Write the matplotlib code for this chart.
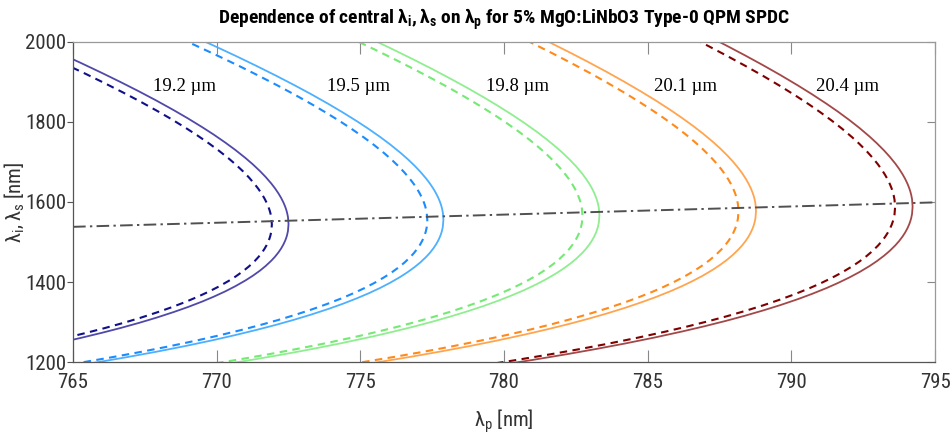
import matplotlib
matplotlib.use("Agg")
import matplotlib.pyplot as plt

plt.rcParams['font.family'] = ['Liberation Sans Narrow', 'Roboto Condensed', 'DejaVu Sans']
plt.rcParams['font.stretch'] = 'condensed'

# Central idler / signal wavelengths versus pump wavelength, for five
# poling periods; each period has a solid and a dashed tuning curve.
# idler = upper branch, signal = lower branch.  Both branches share the
# pump list (the idler uses its first len(idler) entries).

periods = ["19.2 µm", "19.5 µm", "19.8 µm", "20.1 µm", "20.4 µm"]

pump_19_2 = [772.50, 772.48, 772.45, 772.42, 772.38, 772.32, 772.24, 772.15, 772.03, 771.90,
             771.70, 771.50, 771.25, 771.00, 770.65, 770.30, 769.90, 769.50, 769.00, 768.50,
             767.90, 767.30, 766.65, 766.00, 765.25, 764.50, 763.50, 762.50, 761.50, 760.50,
             759.25, 758.00]
idler_19_2 = [1545.0, 1562.7, 1573.1, 1580.7, 1589.0, 1599.1, 1610.4, 1621.3, 1634.0, 1646.1,
              1662.7, 1677.5, 1694.4, 1709.8, 1729.8, 1748.2, 1768.0, 1786.5, 1808.5, 1829.3,
              1853.1, 1875.8, 1899.4, 1922.2, 1947.7, 1972.3, 2004.2]
signal_19_2 = [1545.0, 1527.6, 1517.6, 1510.5, 1503.0, 1493.8, 1483.7, 1474.3, 1463.5, 1453.5,
               1440.1, 1428.4, 1415.6, 1404.2, 1389.9, 1377.0, 1363.8, 1351.7, 1337.9, 1325.3,
               1311.3, 1298.4, 1285.5, 1273.5, 1260.5, 1248.4, 1233.3, 1219.4, 1206.3, 1194.0,
               1179.6, 1166.1]

pump_19_2_b = [771.92, 771.90, 771.87, 771.84, 771.80, 771.74, 771.66, 771.57, 771.45, 771.32,
               771.12, 770.92, 770.67, 770.42, 770.07, 769.72, 769.32, 768.92, 768.42, 767.92,
               767.32, 766.72, 766.07, 765.42, 764.67, 763.92, 762.92, 761.92, 760.92, 759.92,
               758.67, 757.42]
idler_19_2_b = [1543.8, 1561.5, 1571.9, 1579.5, 1587.7, 1597.9, 1609.1, 1620.0, 1632.7, 1644.8,
                1661.4, 1676.2, 1693.0, 1708.4, 1728.3, 1746.7, 1766.4, 1784.9, 1806.9, 1827.6,
                1851.4, 1874.0, 1897.6, 1920.4, 1945.8, 1970.4, 2002.2]
signal_19_2_b = [1543.8, 1526.5, 1516.5, 1509.4, 1501.9, 1492.7, 1482.7, 1473.2, 1462.5, 1452.4,
                 1439.1, 1427.5, 1414.6, 1403.2, 1388.9, 1376.1, 1362.9, 1350.8, 1337.0, 1324.4,
                 1310.4, 1297.6, 1284.7, 1272.7, 1259.7, 1247.6, 1232.6, 1218.6, 1205.6, 1193.3,
                 1178.9, 1165.4]

pump_19_5 = [777.89, 777.87, 777.84, 777.81, 777.77, 777.71, 777.63, 777.54, 777.42, 777.29,
             777.09, 776.89, 776.64, 776.39, 776.04, 775.69, 775.29, 774.89, 774.39, 773.89,
             773.29, 772.69, 772.04, 771.39, 770.64, 769.89, 768.89, 767.89, 766.89, 765.89,
             764.64, 763.39]
idler_19_5 = [1555.8, 1573.7, 1584.3, 1592.0, 1600.4, 1610.7, 1622.1, 1633.2, 1646.1, 1658.4,
              1675.2, 1690.3, 1707.4, 1723.1, 1743.4, 1762.2, 1782.2, 1801.1, 1823.4, 1844.6,
              1868.9, 1892.0, 1916.1, 1939.3, 1965.3, 1990.4, 2022.9]
signal_19_5 = [1555.8, 1538.2, 1528.0, 1520.8, 1513.2, 1503.8, 1493.7, 1484.1, 1473.2, 1463.0,
               1449.4, 1437.7, 1424.7, 1413.1, 1398.6, 1385.6, 1372.2, 1360.0, 1346.0, 1333.2,
               1319.1, 1306.1, 1293.0, 1280.9, 1267.8, 1255.5, 1240.3, 1226.2, 1213.0, 1200.6,
               1186.1, 1172.4]

pump_19_5_b = [777.33, 777.31, 777.28, 777.25, 777.21, 777.15, 777.07, 776.98, 776.86, 776.73,
               776.53, 776.33, 776.08, 775.83, 775.48, 775.13, 774.73, 774.33, 773.83, 773.33,
               772.73, 772.13, 771.48, 770.83, 770.08, 769.33, 768.33, 767.33, 766.33, 765.33,
               764.08, 762.83]
idler_19_5_b = [1554.7, 1572.6, 1583.2, 1590.9, 1599.2, 1609.5, 1620.9, 1632.0, 1644.8, 1657.1,
                1673.9, 1689.0, 1706.1, 1721.8, 1742.0, 1760.7, 1780.7, 1799.6, 1821.9, 1843.0,
                1867.2, 1890.3, 1914.3, 1937.6, 1963.4, 1988.5, 2021.0]
signal_19_5_b = [1554.7, 1537.1, 1527.0, 1519.8, 1512.1, 1502.8, 1492.6, 1483.1, 1472.2, 1462.0,
                 1448.5, 1436.7, 1423.7, 1412.2, 1397.7, 1384.7, 1371.4, 1359.1, 1345.2, 1332.4,
                 1318.3, 1305.3, 1292.3, 1280.1, 1267.0, 1254.8, 1239.6, 1225.5, 1212.3, 1199.9,
                 1185.4, 1171.8]

pump_19_8 = [783.32, 783.30, 783.27, 783.24, 783.20, 783.14, 783.06, 782.97, 782.85, 782.72,
             782.52, 782.32, 782.07, 781.82, 781.47, 781.12, 780.72, 780.32, 779.82, 779.32,
             778.72, 778.12, 777.47, 776.82, 776.07, 775.32, 774.32, 773.32, 772.32, 771.32,
             770.07, 768.82]
idler_19_8 = [1566.6, 1584.9, 1595.6, 1603.4, 1611.9, 1622.3, 1634.0, 1645.2, 1658.2, 1670.8,
              1687.9, 1703.2, 1720.6, 1736.5, 1757.1, 1776.2, 1796.6, 1815.8, 1838.5, 1860.1,
              1884.8, 1908.3, 1932.9, 1956.5, 1983.0, 2008.6, 2041.8]
signal_19_8 = [1566.6, 1548.8, 1538.5, 1531.2, 1523.4, 1514.0, 1503.7, 1494.0, 1482.9, 1472.6,
               1458.9, 1447.0, 1433.8, 1422.1, 1407.4, 1394.3, 1380.7, 1368.4, 1354.2, 1341.3,
               1327.0, 1313.9, 1300.6, 1288.3, 1275.1, 1262.7, 1247.4, 1233.1, 1219.8, 1207.3,
               1192.6, 1178.8]

pump_19_8_b = [782.73, 782.71, 782.68, 782.65, 782.61, 782.55, 782.47, 782.38, 782.26, 782.13,
               781.93, 781.73, 781.48, 781.23, 780.88, 780.53, 780.13, 779.73, 779.23, 778.73,
               778.13, 777.53, 776.88, 776.23, 775.48, 774.73, 773.73, 772.73, 771.73, 770.73,
               769.48, 768.23]
idler_19_8_b = [1565.5, 1583.7, 1594.4, 1602.2, 1610.6, 1621.1, 1632.7, 1643.9, 1656.9, 1669.4,
                1686.5, 1701.8, 1719.1, 1735.1, 1755.6, 1774.7, 1795.0, 1814.2, 1836.9, 1858.4,
                1883.1, 1906.5, 1931.0, 1954.7, 1981.1, 2006.7, 2039.8]
signal_19_8_b = [1565.5, 1547.6, 1537.4, 1530.1, 1522.3, 1512.9, 1502.6, 1492.9, 1481.9, 1471.6,
                 1457.9, 1445.9, 1432.8, 1421.1, 1406.4, 1393.3, 1379.8, 1367.4, 1353.3, 1340.4,
                 1326.1, 1313.0, 1299.8, 1287.5, 1274.3, 1261.9, 1246.6, 1232.4, 1219.0, 1206.5,
                 1191.9, 1178.1]

pump_20_1 = [788.77, 788.75, 788.72, 788.69, 788.65, 788.59, 788.51, 788.42, 788.30, 788.17,
             787.97, 787.77, 787.52, 787.27, 786.92, 786.57, 786.17, 785.77, 785.27, 784.77,
             784.17, 783.57, 782.92, 782.27, 781.52, 780.77, 779.77, 778.77, 777.77, 776.77,
             775.52, 774.27]
idler_20_1 = [1577.5, 1596.0, 1606.9, 1614.8, 1623.4, 1634.0, 1645.8, 1657.2, 1670.5, 1683.2,
              1700.6, 1716.1, 1733.8, 1750.0, 1770.9, 1790.3, 1811.0, 1830.6, 1853.7, 1875.6,
              1900.7, 1924.7, 1949.7, 1973.8, 2000.8, 2026.9, 2060.7]
signal_20_1 = [1577.5, 1559.4, 1549.0, 1541.6, 1533.7, 1524.2, 1513.7, 1503.9, 1492.7, 1482.3,
               1468.4, 1456.3, 1443.0, 1431.1, 1416.2, 1403.0, 1389.2, 1376.7, 1362.4, 1349.4,
               1334.9, 1321.6, 1308.3, 1295.8, 1282.5, 1270.0, 1254.4, 1240.0, 1226.6, 1213.9,
               1199.1, 1185.2]

pump_20_1_b = [788.16, 788.14, 788.11, 788.08, 788.04, 787.98, 787.90, 787.81, 787.69, 787.56,
               787.36, 787.16, 786.91, 786.66, 786.31, 785.96, 785.56, 785.16, 784.66, 784.16,
               783.56, 782.96, 782.31, 781.66, 780.91, 780.16, 779.16, 778.16, 777.16, 776.16,
               774.91, 773.66]
idler_20_1_b = [1576.3, 1594.8, 1605.6, 1613.6, 1622.1, 1632.7, 1644.5, 1655.9, 1669.1, 1681.8,
                1699.1, 1714.7, 1732.3, 1748.5, 1769.4, 1788.7, 1809.4, 1828.9, 1852.0, 1873.9,
                1899.0, 1922.9, 1947.8, 1971.9, 1998.8, 2024.9, 2058.6]
signal_20_1_b = [1576.3, 1558.2, 1547.9, 1540.5, 1532.6, 1523.0, 1512.6, 1502.8, 1491.6, 1481.2,
                 1467.3, 1455.2, 1441.9, 1430.1, 1415.3, 1402.0, 1388.3, 1375.8, 1361.5, 1348.4,
                 1334.0, 1320.8, 1307.4, 1295.0, 1281.6, 1269.1, 1253.7, 1239.3, 1225.8, 1213.2,
                 1198.4, 1184.5]

pump_20_4 = [794.22, 794.20, 794.17, 794.14, 794.10, 794.04, 793.96, 793.87, 793.75, 793.62,
             793.42, 793.22, 792.97, 792.72, 792.37, 792.02, 791.62, 791.22, 790.72, 790.22,
             789.62, 789.02, 788.37, 787.72, 786.97, 786.22, 785.22, 784.22, 783.22, 782.22,
             780.97, 779.72]
idler_20_4 = [1588.4, 1607.2, 1618.2, 1626.3, 1635.0, 1645.7, 1657.7, 1669.2, 1682.7, 1695.6,
              1713.2, 1729.0, 1746.9, 1763.4, 1784.7, 1804.4, 1825.5, 1845.3, 1868.8, 1891.1,
              1916.7, 1941.1, 1966.5, 1991.1, 2018.6, 2045.2, 2079.7]
signal_20_4 = [1588.4, 1570.1, 1559.5, 1552.0, 1544.1, 1534.4, 1523.8, 1513.8, 1502.5, 1491.9,
               1477.8, 1465.6, 1452.1, 1440.1, 1425.1, 1411.7, 1397.8, 1385.1, 1370.7, 1357.4,
               1342.8, 1329.4, 1315.9, 1303.3, 1289.8, 1277.2, 1261.5, 1247.0, 1233.4, 1220.6,
               1205.6, 1191.6]

pump_20_4_b = [793.61, 793.59, 793.56, 793.53, 793.49, 793.43, 793.35, 793.26, 793.14, 793.01,
               792.81, 792.61, 792.36, 792.11, 791.76, 791.41, 791.01, 790.61, 790.11, 789.61,
               789.01, 788.41, 787.76, 787.11, 786.36, 785.61, 784.61, 783.61, 782.61, 781.61,
               780.36, 779.11]
idler_20_4_b = [1587.2, 1605.9, 1616.9, 1625.0, 1633.7, 1644.4, 1656.4, 1667.9, 1681.3, 1694.2,
                1711.8, 1727.6, 1745.5, 1761.9, 1783.1, 1802.8, 1823.8, 1843.7, 1867.1, 1889.4,
                1914.9, 1939.2, 1964.6, 1989.2, 2016.6, 2043.2, 2077.6]
signal_20_4_b = [1587.2, 1568.9, 1558.4, 1550.9, 1542.9, 1533.2, 1522.7, 1512.7, 1501.4, 1490.8,
                 1476.8, 1464.6, 1451.1, 1439.1, 1424.1, 1410.7, 1396.8, 1384.2, 1369.7, 1356.5,
                 1341.9, 1328.5, 1315.0, 1302.5, 1289.0, 1276.4, 1260.7, 1246.2, 1232.6, 1219.9,
                 1204.9, 1190.9]

# reference line through the turning points
ref_pump = [765.0, 795.0]
ref_lambda = [1538.0, 1599.0]

solid_colors = ['#5048aa', '#4db0ff', '#90ee90', '#ffa54f', '#a24848']
dashed_colors = ['#10108a', '#1a8cff', '#74ea74', '#ff8a1a', '#800000']

label_x = [768.88, 774.95, 780.48, 786.33, 791.97]
label_y = 1888.0

solid_sets = [(pump_19_2, idler_19_2, signal_19_2),
              (pump_19_5, idler_19_5, signal_19_5),
              (pump_19_8, idler_19_8, signal_19_8),
              (pump_20_1, idler_20_1, signal_20_1),
              (pump_20_4, idler_20_4, signal_20_4)]
dashed_sets = [(pump_19_2_b, idler_19_2_b, signal_19_2_b),
               (pump_19_5_b, idler_19_5_b, signal_19_5_b),
               (pump_19_8_b, idler_19_8_b, signal_19_8_b),
               (pump_20_1_b, idler_20_1_b, signal_20_1_b),
               (pump_20_4_b, idler_20_4_b, signal_20_4_b)]


def branch_path(pump, idler, signal):
    n = len(idler)
    xs = list(reversed(pump[:n])) + pump[1:]
    ys = list(reversed(idler)) + signal[1:]
    return xs, ys


fig = plt.figure(figsize=(9.51, 4.43), dpi=100)
ax = fig.add_axes([0.0768, 0.1822, 0.9064, 0.7237])

for (p, i, s), col in zip(solid_sets, solid_colors):
    xs, ys = branch_path(p, i, s)
    ax.plot(xs, ys, color=col, lw=1.3, solid_joinstyle='round')
for (p, i, s), col in zip(dashed_sets, dashed_colors):
    xs, ys = branch_path(p, i, s)
    ax.plot(xs, ys, color=col, lw=1.5, linestyle=(0, (3.6, 2.6)))

ax.plot(ref_pump, ref_lambda, color='#505050', lw=1.4,
        linestyle=(0, (6.5, 2.2, 1.2, 2.2)))

for lx, txt in zip(label_x, periods):
    ax.text(lx, label_y, txt, ha='center', va='center',
            family=['Liberation Serif', 'DejaVu Serif'], stretch='normal', fontsize=13.5)

ax.set_xlim(765, 795)
ax.set_ylim(1200, 2000)
ax.set_xticks([765, 770, 775, 780, 785, 790, 795])
ax.set_yticks([1200, 1400, 1600, 1800, 2000])

for side in ['left', 'bottom']:
    ax.spines[side].set_color('#555555')
for side in ['top', 'right']:
    ax.spines[side].set_color('#999999')
for sp in ax.spines.values():
    sp.set_linewidth(0.9)

ax.tick_params(axis='x', direction='in', top=True, length=8.5, width=0.8,
               color='#888888', labelsize=15, pad=8, labelcolor='#333333')
ax.tick_params(axis='y', direction='out', length=4, width=0.8,
               color='#555555', labelsize=15, pad=1, labelcolor='#333333')
sec = ax.secondary_yaxis('right')
sec.set_yticks([1200, 1400, 1600, 1800, 2000])
sec.tick_params(direction='in', length=6, width=0.8, color='#888888',
                labelright=False)
sec.spines['right'].set_visible(False)

ax.set_xlabel(r'$\mathregular{λ_p}$ [nm]', fontsize=15, color='#333333', labelpad=11)
ax.set_ylabel(r'$\mathregular{λ_i,λ_s}$ [nm]', fontsize=15, color='#333333')
ax.yaxis.set_label_coords(-0.055, 0.5)
ax.set_title(r'Dependence of central $\mathregular{λ_i,λ_s}$ on $\mathregular{λ_p}$'
             r' for 5% MgO:LiNbO3 Type-0 QPM SPDC',
             fontsize=14, fontweight='bold', pad=13)

fig.savefig('out.png', dpi=100)
